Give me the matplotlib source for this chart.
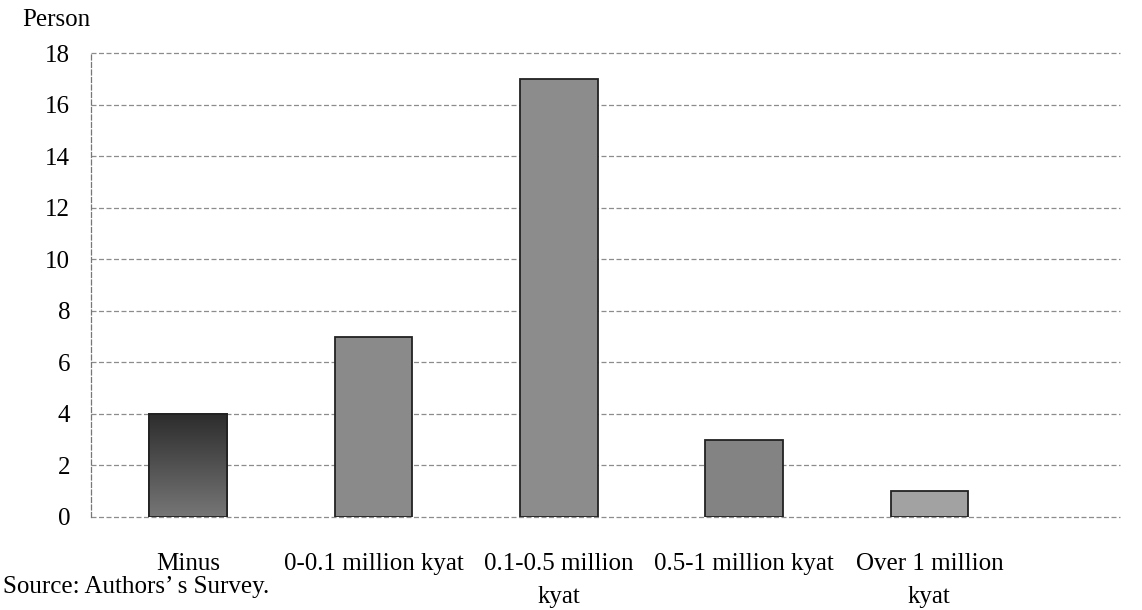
import matplotlib.pyplot as plt
import numpy as np

categories = ['Minus', '0-0.1 million kyat', '0.1-0.5 million\nkyat',
              '0.5-1 million kyat', 'Over 1 million\nkyat']
persons = [4, 7, 17, 3, 1]
bar_colors = ['#505050', '#8a8a8a', '#8c8c8c', '#838383', '#a2a2a2']
yticks = [0, 2, 4, 6, 8, 10, 12, 14, 16, 18]

plt.rcParams['font.family'] = 'Liberation Serif'

fig = plt.figure(figsize=(11.42, 6.10), dpi=100)
ax = fig.add_axes([0.0797, 0.1525, 0.9013, 0.7605])

x = np.arange(len(categories))
bars = ax.bar(x, persons, width=0.42, color=bar_colors,
              edgecolor='#222222', linewidth=1.3, zorder=3)

# dark-to-light shading on the first bar
b0 = bars[0]
grad = np.linspace(0, 1, 100).reshape(-1, 1)
x0, w = b0.get_x(), b0.get_width()
im = ax.imshow(grad, cmap=plt.matplotlib.colors.LinearSegmentedColormap.from_list(
    'shade', ['#767676', '#2c2c2c']), aspect='auto', origin='lower',
    extent=[x0, x0 + w, 0, persons[0]], zorder=3.5)
im.set_clip_path(b0)
ax.bar(x[:1], persons[:1], width=0.42, fill=False,
       edgecolor='#222222', linewidth=1.3, zorder=4)

ax.set_xlim(-0.524, 5.03)
ax.set_ylim(0, 18)
ax.set_yticks(yticks)
ax.set_xticks(x)
ax.set_xticklabels(categories, fontsize=18, linespacing=1.65)
ax.tick_params(axis='y', labelsize=18, length=0, pad=15)
ax.tick_params(axis='x', length=0, pad=26)

ax.grid(axis='y', linestyle=(0, (4, 2)), color='#8c8c8c', linewidth=0.9, zorder=0)
for gl in ax.get_ygridlines():
    gl.set_clip_on(False)
for s in ['top', 'right', 'bottom']:
    ax.spines[s].set_visible(False)
ax.spines['left'].set_linestyle((0, (4, 2)))
ax.spines['left'].set_color('#777777')
ax.spines['left'].set_linewidth(0.9)

fig.text(22 / 1142, 1 - 20 / 610, 'Person', fontsize=18, ha='left', va='center')
fig.text(3 / 1142, 1 - 593 / 610, 'Source: Authors’ s Survey.', fontsize=18,
         ha='left', va='baseline')

fig.savefig('out.png', dpi=100)
